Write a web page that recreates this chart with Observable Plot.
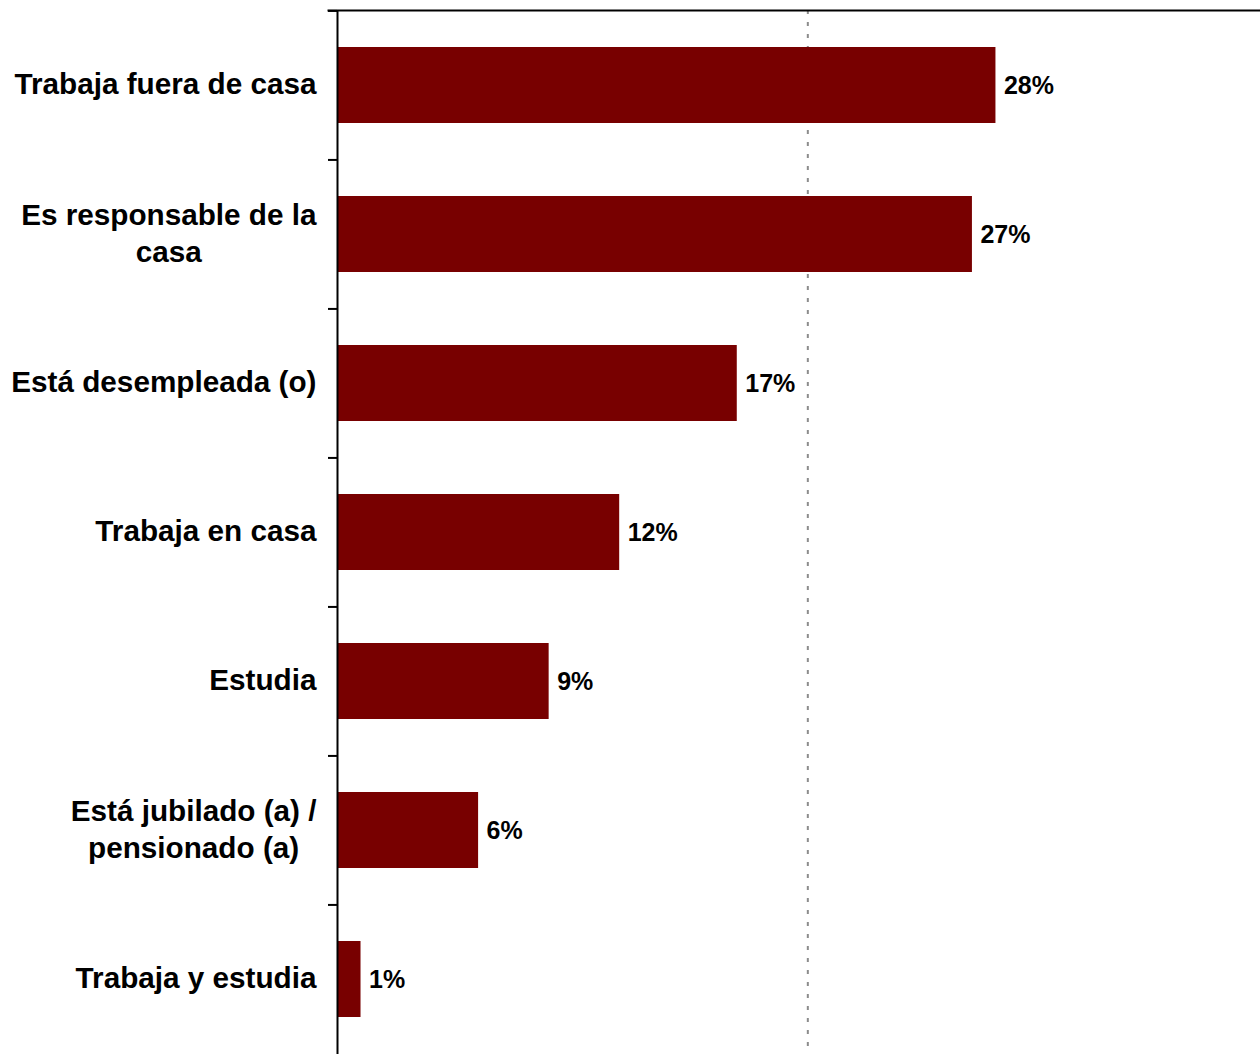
<!DOCTYPE html>
<html>
<head>
<meta charset="utf-8">
<script src="https://cdn.jsdelivr.net/npm/d3@7"></script>
<script src="https://cdn.jsdelivr.net/npm/@observablehq/plot@0.6"></script>
<style>
  html, body { margin: 0; padding: 0; background: #fff; }
  #chart svg { display: block; font-family: "Liberation Sans", Arial, sans-serif; }
</style>
</head>
<body>
<div id="chart"></div>
<script>
const categories = [
  "Trabaja fuera de casa",
  "Es responsable de la casa",
  "Está desempleada (o)",
  "Trabaja en casa",
  "Estudia",
  "Está jubilado (a) / pensionado (a)",
  "Trabaja y estudia"
];
const tickLabels = [
  "Trabaja fuera de casa",
  "Es responsable de la\ncasa",
  "Está desempleada (o)",
  "Trabaja en casa",
  "Estudia",
  "Está jubilado (a) /\npensionado (a)",
  "Trabaja y estudia"
];
const values = [28, 27, 17, 12, 9, 6, 1];
const referenceLine = [20];

const data = categories.map((c, i) => ({category: c, value: values[i], label: values[i] + "%"}));

const W = 1260, H = 1054;
const mTop = 10, mBottom = 0, mLeft = 337, mRight = 0;
const step = (H - mTop - mBottom) / categories.length;

const plot = Plot.plot({
  width: W,
  height: H,
  marginTop: mTop,
  marginBottom: mBottom,
  marginLeft: mLeft,
  marginRight: mRight,
  style: {background: "#fff", color: "#000", fontFamily: "'Liberation Sans', Arial, sans-serif"},
  x: {domain: [0, 39.25], axis: null},
  y: {domain: categories, paddingInner: 0.49, paddingOuter: 0.245, label: null},
  marks: [
    Plot.ruleX(referenceLine, {stroke: "#8c8c8c", strokeWidth: 2, strokeDasharray: "4,8"}),
    Plot.barX(data, {y: "category", x: "value", fill: "#780000"}),
    Plot.text(data, {
      y: "category", x: "value", text: "label",
      textAnchor: "start", dx: 8, fontSize: 25, fontWeight: "bold", fill: "#000"
    }),
    Plot.axisY({
      tickSize: 0, tickPadding: 21, fontSize: 29.7, fontWeight: "bold", lineHeight: 1.25, dy: -3,
      tickFormat: d => tickLabels[categories.indexOf(d)], label: null
    }),
    Plot.ruleY(categories, {y: d => d, x1: 0, x2: 0, insetLeft: -9, dy: -step / 2, stroke: "#000", strokeWidth: 2}),
    Plot.ruleX([0], {stroke: "#000", strokeWidth: 2}),
    Plot.frame({anchor: "top", stroke: "#000", strokeWidth: 2, insetLeft: -9})
  ]
});

document.getElementById("chart").appendChild(plot);

// Center the lines of multi-line labels on their widest line (block stays right-aligned)
plot.querySelectorAll('g[aria-label="y-axis tick label"] text').forEach(t => {
  const spans = t.querySelectorAll("tspan");
  if (spans.length > 1) {
    let maxW = 0;
    spans.forEach(s => { maxW = Math.max(maxW, s.getComputedTextLength()); });
    t.setAttribute("text-anchor", "middle");
    const tr = t.getAttribute("transform") || "";
    t.setAttribute("transform", tr + ` translate(${-maxW / 2},0)`);
  }
});
</script>
</body>
</html>
